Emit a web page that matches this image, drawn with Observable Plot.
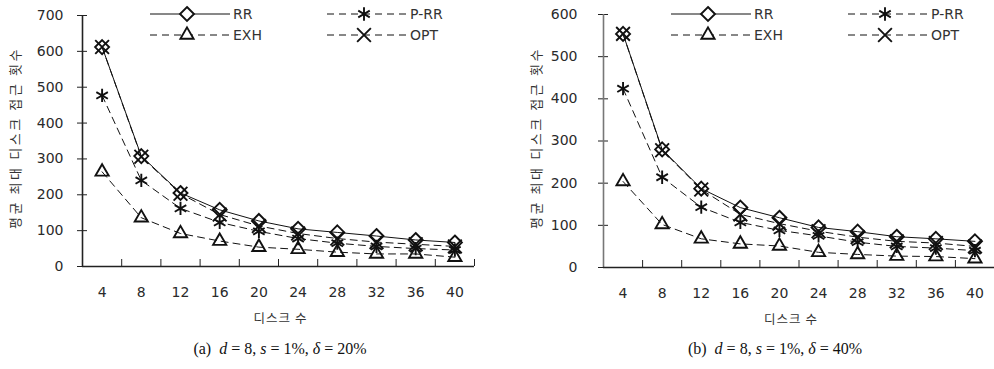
<!DOCTYPE html>
<html><head><meta charset="utf-8">
<script src="https://cdn.jsdelivr.net/npm/d3@7"></script>
<script src="https://cdn.jsdelivr.net/npm/@observablehq/plot@0.6"></script>
<style>
body{margin:0;background:#fff;}
#wrap{position:relative;width:994px;height:369px;overflow:hidden;background:#fff;}
.panel{position:absolute;top:0;}
.legend{position:absolute;top:0;left:0;}
.cap{position:absolute;top:340px;font-family:"Liberation Serif",serif;font-size:16px;color:#111;white-space:pre;transform:translateX(-50%);}
</style></head><body><div id="wrap"></div>
<script>
// ---- data ----
const disks = [4, 8, 12, 16, 20, 24, 28, 32, 36, 40];
const xBounds = [6, 10, 14, 18, 22, 26, 30, 34, 38, 42];
const seriesNames = ["RR", "P-RR", "EXH", "OPT"];

const rrA  = [612, 308, 205, 158, 127, 105, 95, 85, 74, 67];
const prrA = [477, 240, 162, 123, 98, 78, 65, 56, 50, 46];
const exhA = [264, 136, 92, 71, 54, 48, 40, 35, 35, 26];
const optA = [612, 306, 203, 145, 113, 92, 78, 68, 62, 56];

const rrB  = [554, 280, 187, 142, 118, 95, 85, 73, 68, 62];
const prrB = [424, 214, 143, 107, 88, 75, 60, 50, 46, 40];
const exhB = [204, 102, 68, 56, 51, 36, 31, 27, 26, 21];
const optB = [554, 278, 185, 126, 104, 86, 72, 62, 58, 50];

const yTicksA = [0, 100, 200, 300, 400, 500, 600, 700];
const yTicksB = [0, 100, 200, 300, 400, 500, 600];

const yLabel = "평균 최대 디스크 접근 횟수";
const xLabel = "디스크 수";
const captionA = ["(a)", "d", "8", "s", "1%", "δ", "20%"];
const captionB = ["(b)", "d", "8", "s", "1%", "δ", "40%"];

// ---- styles ----
const styles = {
  "RR":   {symbol: "diamond2",  dash: null},
  "P-RR": {symbol: "asterisk",  dash: "7,5"},
  "EXH":  {symbol: "triangle2", dash: "7,5"},
  "OPT":  {symbol: "times",     dash: "7,5"}
};
const R = 6.3;

function tidy(valsList) {
  const out = [];
  seriesNames.forEach((name, k) => valsList[k].forEach((v, i) => out.push({name, disks: disks[i], value: v})));
  return out;
}

function makePanel(cfg) {
  const data = tidy(cfg.values);
  const lineMarks = seriesNames.map(n => Plot.line(data.filter(d => d.name === n), {
    x: "disks", y: "value", stroke: "#111", strokeWidth: 1, strokeDasharray: styles[n].dash
  }));
  const dotMarks = seriesNames.map(n => Plot.dot(data.filter(d => d.name === n), {
    x: "disks", y: "value", symbol: () => styles[n].symbol, r: R, stroke: "#111", strokeWidth: 1.9, fill: "none"
  }));
  const svg = Plot.plot({
    width: cfg.width, height: 330,
    marginLeft: cfg.ml, marginRight: cfg.mr, marginTop: cfg.mt, marginBottom: cfg.mb,
    x: {domain: [2, 42]},
    y: {domain: [0, cfg.yMax]},
    symbol: {type: "identity"},
    style: {fontFamily: "'DejaVu Sans', sans-serif", fontSize: "14px", color: "#2a2a2a", background: "transparent", overflow: "visible"},
    marks: [
      Plot.axisY({ticks: cfg.yTicks, tickSize: 0, tickPadding: cfg.tickPad, label: null}),
      Plot.axisY({ticks: cfg.yTicks, tickSize: 10, dx: 5, tickFormat: () => "", label: null, stroke: "#222"}),
      Plot.axisX({ticks: disks, tickSize: 0, tickPadding: 21, label: null}),
      Plot.axisX({ticks: xBounds, tickSize: -7, tickFormat: () => "", label: null, stroke: "#222"}),
      Plot.ruleX([2], {stroke: cfg.yAxisColor, strokeWidth: 1.6}),
      Plot.ruleY([0], {stroke: "#222", strokeWidth: 1.6}),
      ...lineMarks,
      ...dotMarks,
      Plot.text([xLabel], {frameAnchor: "bottom", dy: 56, dx: cfg.xLabelDx, fill: "#333", fontSize: 12.5, fontFamily: "'Noto Sans CJK KR', sans-serif"}),
      Plot.text([yLabel], {frameAnchor: "left", dx: -67, dy: -3, rotate: -90, textAnchor: "middle", lineAnchor: "middle", fill: "#333", fontSize: 13, fontFamily: "'Noto Sans CJK KR', sans-serif"})
    ]
  });
  d3.select(svg).selectAll("text").each(function() {
    const t = this.textContent;
    if (t === yLabel) d3.select(this).style("letter-spacing", "2.6px");
    else if (t === xLabel) d3.select(this).style("letter-spacing", "1px");
  });
  return svg;
}

function makeLegend(ml) {
  const svg = d3.create("svg").attr("class", "legend").attr("width", 497).attr("height", 50);
  const items = [
    {name: "RR", col: 0, row: 0}, {name: "P-RR", col: 1, row: 0},
    {name: "EXH", col: 0, row: 1}, {name: "OPT", col: 1, row: 1}
  ];
  items.forEach(it => {
    const x0 = ml + 68 + it.col * 177;
    const y = 14 + it.row * 21;
    const st = styles[it.name];
    svg.append("line").attr("x1", x0).attr("x2", x0 + 80).attr("y1", y).attr("y2", y)
      .attr("stroke", "#111").attr("stroke-width", 1).attr("stroke-dasharray", st.dash);
    const sym = {diamond2: d3.symbolDiamond2, asterisk: d3.symbolAsterisk, triangle2: d3.symbolTriangle2, times: d3.symbolTimes}[st.symbol];
    svg.append("path").attr("d", d3.symbol(sym, R * R * Math.PI)())
      .attr("transform", `translate(${x0 + 37},${y})`)
      .attr("fill", "#fff").attr("stroke", "#111").attr("stroke-width", 1.9);
    svg.append("text").attr("x", x0 + 83).attr("y", y).attr("dy", "0.36em")
      .attr("font-family", "'DejaVu Sans', sans-serif").attr("font-size", 14).attr("fill", "#333")
      .text(it.name);
  });
  return svg.node();
}

function captionHTML(c) {
  return `${c[0]}  <i>${c[1]}</i> = ${c[2]}, <i>${c[3]}</i> = ${c[4]}, <i>${c[5]}</i> = ${c[6]}`;
}

const wrap = document.getElementById("wrap");
const panels = [
  {left: 0, width: 490, ml: 82, mr: 16, mt: 15, mb: 64, yMax: 700, yTicks: yTicksA, tickPad: 19, yAxisColor: "#222", xLabelDx: 2,
   values: [rrA, prrA, exhA, optA], caption: captionA, capX: 280},
  {left: 497, width: 497, ml: 106, mr: 0, mt: 14, mb: 63, yMax: 600, yTicks: yTicksB, tickPad: 26, yAxisColor: "#777", xLabelDx: -8,
   values: [rrB, prrB, exhB, optB], caption: captionB, capX: 775}
];
panels.forEach(p => {
  const div = document.createElement("div");
  div.className = "panel";
  div.style.left = p.left + "px";
  div.style.width = p.width + "px";
  div.style.height = "330px";
  div.appendChild(makePanel(p));
  div.appendChild(makeLegend(p.ml));
  wrap.appendChild(div);
  const cap = document.createElement("div");
  cap.className = "cap";
  cap.style.left = p.capX + "px";
  cap.innerHTML = captionHTML(p.caption);
  wrap.appendChild(cap);
});
</script>
</body></html>
